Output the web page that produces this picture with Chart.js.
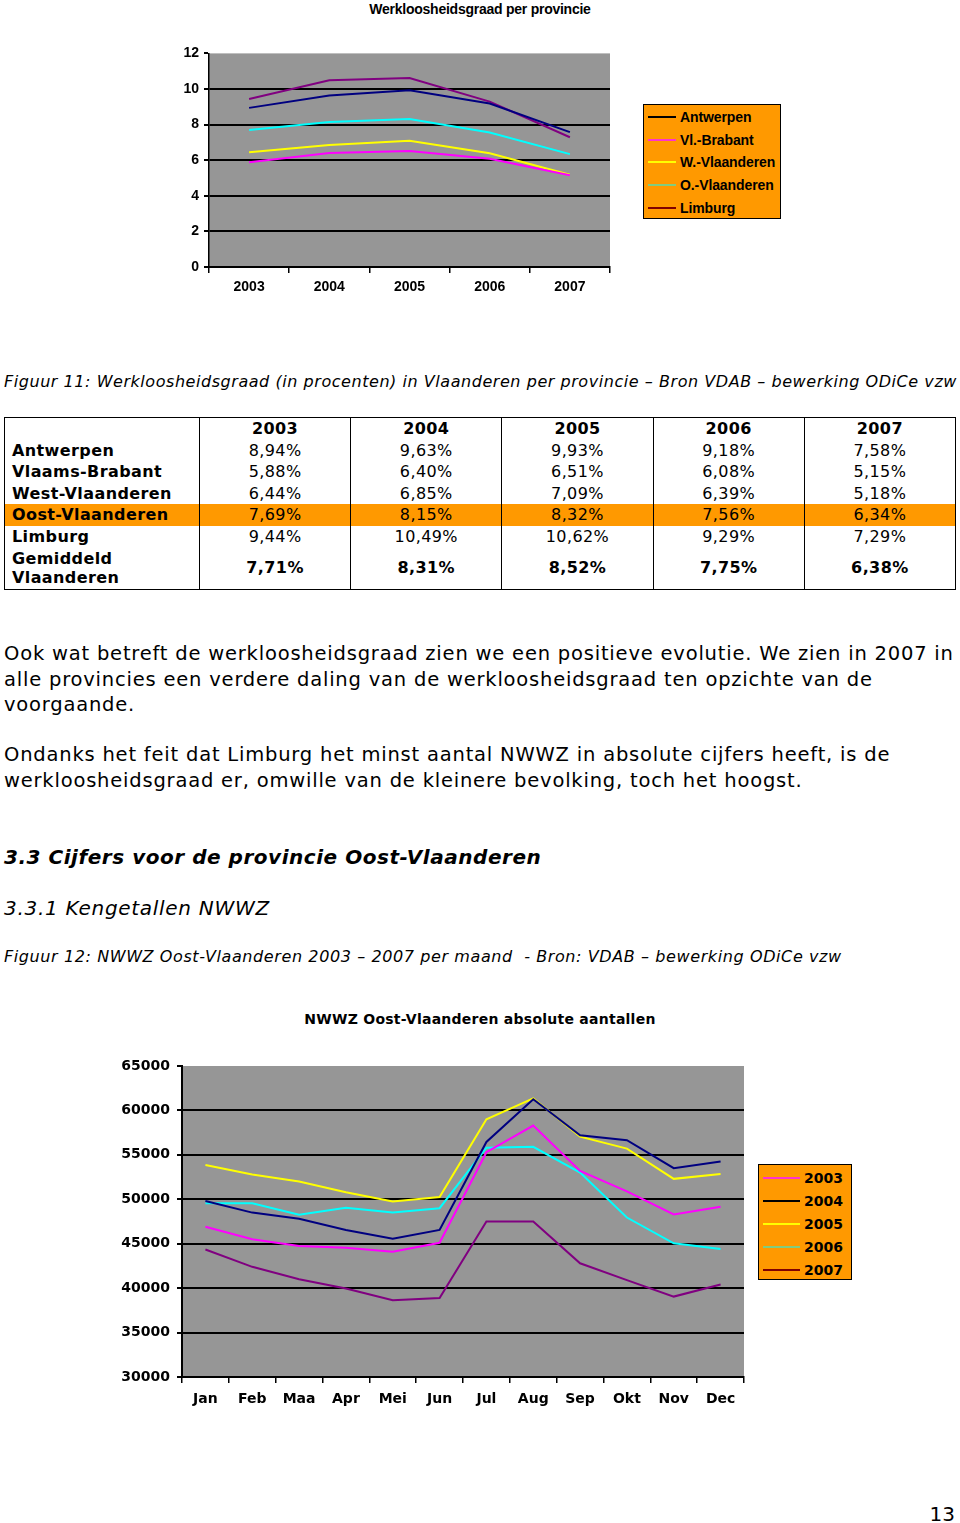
<!DOCTYPE html>
<html>
<head>
<meta charset="utf-8">
<script src="https://cdn.jsdelivr.net/npm/chart.js@4"></script>
<style>
  body { margin: 0; background: #fff; width: 960px; height: 1523px; position: relative; overflow: hidden;
         font-family: 'DejaVu Sans', Verdana, sans-serif; color: #000; }
  .abs { position: absolute; white-space: nowrap; }
  .legend { position: absolute; background: #ff9900; border: 1px solid #000; box-sizing: border-box; }
  .legend .item { display: flex; align-items: center; }
  .legend .swatch { display: inline-block; height: 2px; }
  .leg1 { font-family: 'Liberation Sans', Arial, sans-serif; font-weight: bold; font-size: 14px; letter-spacing: -0.1px; }
  .leg2 { font-weight: bold; font-size: 14px; }
  table { position: absolute; left: 4px; top: 417px; width: 952px; border-collapse: collapse; border: 1px solid #000;
          font-size: 16px; table-layout: fixed; letter-spacing: 0.4px; }
  td { padding: 0; border-left: 1px solid #000; border-right: 1px solid #000; text-align: center; line-height: 19px; }
  td.lbl { text-align: left; font-weight: bold; padding-left: 7px; }
  tr.hdr td { font-weight: bold; }
  tr.hl td { background: #ff9900; }
  tr.avg td { font-weight: bold; }
</style>
</head>
<body>

<div class="abs" style="left:0;width:960px;top:0;text-align:center;font-family:'Liberation Sans',Arial,sans-serif;font-weight:bold;font-size:14px;letter-spacing:-0.25px;line-height:18px;">Werkloosheidsgraad per provincie</div>
<div class="abs" style="left:150px;top:40px;width:470px;height:260px;"><canvas id="chart1"></canvas></div>
<div class="legend leg1" id="legend1" style="left:643px;top:104px;width:138px;height:115px;padding-top:1px;"></div>

<div class="abs" style="left:4px;top:371px;font-size:16px;font-style:italic;line-height:22px;letter-spacing:0.55px;">Figuur 11: Werkloosheidsgraad (in procenten) in Vlaanderen per provincie – Bron VDAB – bewerking ODiCe vzw</div>

<table id="tbl">
  <colgroup><col style="width:195px"><col><col><col><col><col></colgroup>
</table>

<div class="abs" style="left:4px;top:641px;font-size:19.5px;line-height:25.5px;letter-spacing:0.8px;">Ook wat betreft de werkloosheidsgraad zien we een positieve evolutie. We zien in 2007 in<br>alle provincies een verdere daling van de werkloosheidsgraad ten opzichte van de<br>voorgaande.</div>
<div class="abs" style="left:4px;top:742px;font-size:19.5px;line-height:25.5px;letter-spacing:0.8px;">Ondanks het feit dat Limburg het minst aantal NWWZ in absolute cijfers heeft, is de<br>werkloosheidsgraad er, omwille van de kleinere bevolking, toch het hoogst.</div>
<div class="abs" style="left:4px;top:844px;font-size:20px;font-weight:bold;font-style:italic;line-height:26px;letter-spacing:0.53px;">3.3 Cijfers voor de provincie Oost-Vlaanderen</div>
<div class="abs" style="left:4px;top:895px;font-size:20px;font-style:italic;line-height:26px;letter-spacing:0.7px;">3.3.1 Kengetallen NWWZ</div>
<div class="abs" style="left:4px;top:946px;font-size:16px;font-style:italic;line-height:22px;letter-spacing:0.6px;">Figuur 12: NWWZ Oost-Vlaanderen 2003 – 2007 per maand&nbsp; - Bron: VDAB – bewerking ODiCe vzw</div>

<div class="abs" style="left:0;width:960px;top:1010px;text-align:center;font-size:14px;font-weight:bold;line-height:18px;letter-spacing:0.25px;">NWWZ Oost-Vlaanderen absolute aantallen</div>
<div class="abs" style="left:100px;top:1050px;width:654px;height:370px;"><canvas id="chart2"></canvas></div>
<div class="legend leg2" id="legend2" style="left:758px;top:1164px;width:94px;height:116px;padding-top:1px;"></div>

<div class="abs" style="right:5px;top:1502px;font-size:20px;line-height:24px;">13</div>

<script>
// ── Data: werkloosheidsgraad per provincie (%) ──────────────
const JAREN = ['2003', '2004', '2005', '2006', '2007'];
const PROVINCIES = ['Antwerpen', 'Vl.-Brabant', 'W.-Vlaanderen', 'O.-Vlaanderen', 'Limburg'];
const antwerpen    = [8.94, 9.63, 9.93, 9.18, 7.58];
const vlBrabant    = [5.88, 6.40, 6.51, 6.08, 5.15];
const wVlaanderen  = [6.44, 6.85, 7.09, 6.39, 5.18];
const oVlaanderen  = [7.69, 8.15, 8.32, 7.56, 6.34];
const limburg      = [9.44, 10.49, 10.62, 9.29, 7.29];
const gemiddeld    = [7.71, 8.31, 8.52, 7.75, 6.38];
const Y1_TICKS = [0, 2, 4, 6, 8, 10, 12];

// ── Data: NWWZ Oost-Vlaanderen per maand ────────────────────
const MAANDEN = ['Jan','Feb','Maa','Apr','Mei','Jun','Jul','Aug','Sep','Okt','Nov','Dec'];
const NWWZ_JAREN = ['2003', '2004', '2005', '2006', '2007'];
const nwwz2003 = [46900, 45500, 44750, 44550, 44100, 45100, 55300, 58300, 53200, 50900, 48300, 49150];
const nwwz2004 = [49800, 48500, 47800, 46550, 45550, 46550, 56450, 61250, 57200, 56650, 53500, 54250];
const nwwz2005 = [53850, 52800, 52000, 50800, 49750, 50250, 59000, 61350, 57050, 55700, 52300, 52850];
const nwwz2006 = [49550, 49550, 48250, 49050, 48500, 49000, 55800, 55900, 53000, 47950, 45050, 44400];
const nwwz2007 = [44350, 42400, 41000, 39950, 38650, 38900, 47500, 47500, 42800, 40900, 39050, 40400];
const Y2_TICKS = [30000, 35000, 40000, 45000, 50000, 55000, 60000, 65000];

const KLEUREN = ['#000080', '#ff00ff', '#ffff00', '#00ffff', '#800080'];
const KLEUREN2 = ['#ff00ff', '#000080', '#ffff00', '#00ffff', '#800080'];

// ── Tabel ───────────────────────────────────────────────────
const fmt = v => v.toFixed(2).replace('.', ',') + '%';
const tbl = document.getElementById('tbl');
const rijen = [
  ['Antwerpen', antwerpen, ''],
  ['Vlaams-Brabant', vlBrabant, ''],
  ['West-Vlaanderen', wVlaanderen, ''],
  ['Oost-Vlaanderen', oVlaanderen, 'hl'],
  ['Limburg', limburg, ''],
  ['Gemiddeld<br>Vlaanderen', gemiddeld, 'avg']
];
let html = '<tr class="hdr" style="height:22px"><td></td>' + JAREN.map(j => '<td>' + j + '</td>').join('') + '</tr>';
rijen.forEach(([naam, vals, cls]) => {
  const h = cls === 'avg' ? 42 : 21.5;
  html += '<tr class="' + cls + '" style="height:' + h + 'px"><td class="lbl">' + naam + '</td>' +
    vals.map(v => '<td>' + fmt(v) + '</td>').join('') + '</tr>';
});
tbl.insertAdjacentHTML('beforeend', html);

// ── Legenda's (HTML) ────────────────────────────────────────
function maakLegende(id, labels, kleuren, swatchW, rowH, gap) {
  const el = document.getElementById(id);
  labels.forEach((l, i) => {
    el.insertAdjacentHTML('beforeend',
      '<div class="item" style="height:' + rowH + 'px"><span class="swatch" style="width:' + swatchW +
      'px;margin-left:4px;margin-right:' + gap + 'px;background:' + kleuren[i] + '"></span>' + l + '</div>');
  });
}
maakLegende('legend1', PROVINCIES, ['#000', '#ff33cc', '#ffff00', '#80cc80', '#800000'], 28, 22.6, 4);
maakLegende('legend2', NWWZ_JAREN, ['#ff33cc', '#000', '#ffff00', '#80cc80', '#800000'], 37, 23, 4);

// ── Plugin: grijze plotachtergrond ──────────────────────────
const plotBg = {
  id: 'plotBg',
  beforeDraw(chart) {
    const { ctx, chartArea: a } = chart;
    ctx.save();
    ctx.fillStyle = '#969696';
    ctx.fillRect(a.left, a.top, a.right - a.left, a.bottom - a.top);
    ctx.restore();
  }
};

function lijn(label, data, kleur) {
  return { label, data, borderColor: kleur, backgroundColor: kleur, borderWidth: 2,
           pointRadius: 0, tension: 0, fill: false };
}

// ── Grafiek 1 ───────────────────────────────────────────────
const font1 = { family: "'Liberation Sans', Arial, sans-serif", size: 14, weight: 'bold' };
new Chart(document.getElementById('chart1'), {
  type: 'line',
  data: {
    labels: JAREN,
    datasets: [antwerpen, vlBrabant, wVlaanderen, oVlaanderen, limburg]
      .map((d, i) => lijn(PROVINCIES[i], d, KLEUREN[i]))
  },
  options: {
    responsive: true, maintainAspectRatio: false, animation: false,
    layout: { padding: { top: 13, right: 10, left: 0, bottom: 0 } },
    plugins: { legend: { display: false }, tooltip: { enabled: false } },
    scales: {
      x: {
        offset: true,
        afterFit: s => { s.height = 33; },
        grid: { offset: true, drawOnChartArea: false, color: '#000', tickLength: 6, lineWidth: 1.5 },
        border: { color: '#000', width: 2 },
        ticks: { color: '#000', font: font1, padding: 6, maxRotation: 0 }
      },
      y: {
        min: 0, max: 12,
        afterFit: s => { s.width = 59; },
        afterBuildTicks: s => { s.ticks = Y1_TICKS.map(v => ({ value: v })); },
        grid: {
          color: c => (c.tick && (c.tick.value === 0 || c.tick.value === 12)) ? 'rgba(0,0,0,0)' : '#000',
          tickColor: '#000', lineWidth: 2, tickLength: 5
        },
        border: { color: '#000', width: 1.5 },
        ticks: { color: '#000', font: font1, padding: 5 }
      }
    }
  },
  plugins: [plotBg]
});

// ── Grafiek 2 ───────────────────────────────────────────────
const font2 = { family: "'DejaVu Sans', Verdana, sans-serif", size: 14, weight: 'bold' };
new Chart(document.getElementById('chart2'), {
  type: 'line',
  data: {
    labels: MAANDEN,
    datasets: [nwwz2003, nwwz2004, nwwz2005, nwwz2006, nwwz2007]
      .map((d, i) => lijn(NWWZ_JAREN[i], d, KLEUREN2[i]))
  },
  options: {
    responsive: true, maintainAspectRatio: false, animation: false,
    layout: { padding: { top: 16, right: 10, left: 0, bottom: 0 } },
    plugins: { legend: { display: false }, tooltip: { enabled: false } },
    scales: {
      x: {
        offset: true,
        afterFit: s => { s.height = 43; },
        grid: { offset: true, drawOnChartArea: false, color: '#000', tickLength: 6, lineWidth: 1.5 },
        border: { color: '#000', width: 2 },
        ticks: { color: '#000', font: font2, padding: 8, maxRotation: 0, autoSkip: false }
      },
      y: {
        min: 30000, max: 65000,
        afterFit: s => { s.width = 82; },
        afterBuildTicks: s => { s.ticks = Y2_TICKS.map(v => ({ value: v })); },
        grid: {
          color: c => (c.tick && (c.tick.value === 30000 || c.tick.value === 65000)) ? 'rgba(0,0,0,0)' : '#000',
          tickColor: '#000', lineWidth: 2, tickLength: 5
        },
        border: { color: '#000', width: 2 },
        ticks: { color: '#000', font: font2, padding: 7, callback: v => String(v) }
      }
    }
  },
  plugins: [plotBg]
});
</script>
</body>
</html>
